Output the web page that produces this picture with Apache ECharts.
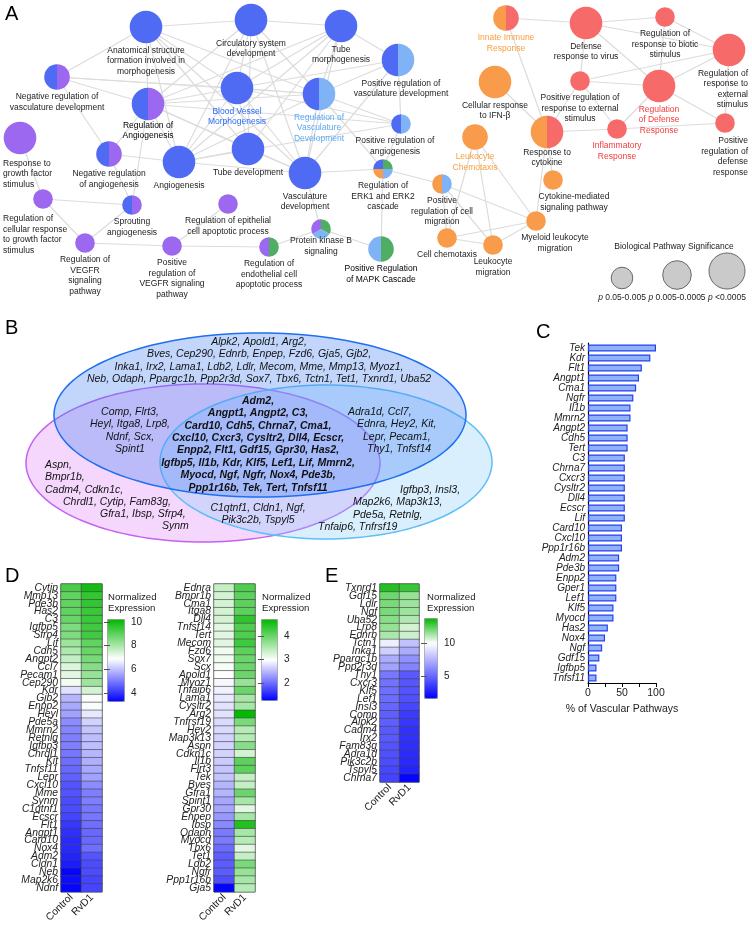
<!DOCTYPE html>
<html><head><meta charset="utf-8">
<script src="https://cdn.jsdelivr.net/npm/echarts@6/dist/echarts.min.js"></script>
<style>html,body{margin:0;padding:0;background:#fff}#c{width:752px;height:925px}</style>
</head><body><div id="c"></div>
<script>
const FONT = '"Liberation Sans", Arial, Helvetica, sans-serif';

// ---------------- Panel A : enrichment network ----------------
const nodeIds = ['anat','circ','tubeM','negVasc','regAng','bvm','regVasc','growth','negAng','angio','tubeD','vascD','regCell','sprout','epith','pkb','vegfr','posVegfr','endo','posVasc','posAng','erk','mapk','posMig','innate','virus','biotic','ext','ifn','posExt','regDef','leukChem','respCyt','inflam','posDef','cytMed','myeloid','cellChem','leukMig'];
const nodeLabels = [
 'Anatomical structure\nformation involved in\nmorphogenesis','Circulatory system\ndevelopment','Tube\nmorphogenesis',
 'Negative regulation of\nvasculature development','Regulation of\nAngiogenesis','Blood Vessel\nMorphogenesis',
 'Regulation of\nVasculature\nDevelopment','Response to\ngrowth factor\nstimulus','Negative regulation\nof angiogenesis',
 'Angiogenesis','Tube development','Vasculature\ndevelopment',
 'Regulation of\ncellular response\nto growth factor\nstimulus','Sprouting\nangiogenesis','Regulation of epithelial\ncell apoptotic process',
 'Protein kinase B\nsignaling','Regulation of\nVEGFR\nsignaling\npathway','Positive\nregulation of\nVEGFR signaling\npathway',
 'Regulation of\nendothelial cell\napoptotic process','Positive regulation of\nvasculature development','Positive regulation of\nangiogenesis',
 'Regulation of\nERK1 and ERK2\ncascade','Positive Regulation\nof MAPK Cascade','Positive\nregulation of cell\nmigration',
 'Innate Immune\nResponse','Defense\nresponse to virus','Regulation of\nresponse to biotic\nstimulus',
 'Regulation of\nresponse to\nexternal\nstimulus','Cellular response\nto IFN-β','Positive regulation of\nresponse to external\nstimulus',
 'Regulation\nof Defense\nResponse','Leukocyte\nChemotaxis','Response to\ncytokine',
 'Inflammatory\nResponse','Positive\nregulation of\ndefense\nresponse','Cytokine-mediated\nsignaling pathway',
 'Myeloid leukocyte\nmigration','Cell chemotaxis','Leukocyte\nmigration'];
const nodeX = [146,251,341,57,148,237,319,20,109,179,248,305,43,132,228,321,85,172,269,398,401,383,381,442,506,586,665,729,495,580,659,475,547,617,725,553,536,447,493];
const nodeY = [27,20,26,77,104,88,94,138,154,162,149,173,199,205,204,229,243,246,247,60,124,169,249,184,18,23,17,50,82,81,86,137,132,129,123,180,221,238,245];
const nodeSig = [3,3,3,2,3,3,3,3,2,3,3,3,1,1,1,1,1,1,1,3,1,1,2,1,2,3,1,3,3,1,3,2,3,1,1,1,1,1,1];
const nodeParts = [['v'],['v'],['v'],['p','v'],['p','v'],['v'],['lb','v'],['p'],['p','v'],['v'],['v'],['v'],['p'],['p','v'],['p'],['g','lb','p'],['p'],['p'],['g','p'],['lb','v'],['lb','v'],['g','lb','o','v'],['g','lb'],['lb','o'],['r','o'],['r'],['r'],['r'],['o'],['r'],['r'],['o'],['r','o'],['r'],['r'],['o'],['o'],['o'],['o']];
const edgeList = [
['anat','circ'],['circ','tubeM'],['anat','bvm'],['anat','regAng'],['anat','angio'],['anat','tubeD'],['anat','vascD'],['anat','regVasc'],['anat','negVasc'],
['circ','bvm'],['circ','regVasc'],['circ','angio'],['circ','tubeD'],['circ','vascD'],['circ','regAng'],
['tubeM','bvm'],['tubeM','regVasc'],['tubeM','vascD'],['tubeM','tubeD'],['tubeM','posVasc'],['tubeM','angio'],['tubeM','regAng'],
['negVasc','regAng'],['negVasc','bvm'],['negVasc','negAng'],['negVasc','regVasc'],
['regAng','bvm'],['regAng','angio'],['regAng','negAng'],['regAng','regVasc'],['regAng','tubeD'],['regAng','posAng'],['regAng','vascD'],['regAng','sprout'],
['bvm','angio'],['bvm','tubeD'],['bvm','vascD'],['bvm','regVasc'],['bvm','posAng'],['bvm','posVasc'],
['regVasc','vascD'],['regVasc','angio'],['regVasc','posVasc'],['regVasc','posAng'],['regVasc','erk'],
['posVasc','posAng'],['posVasc','vascD'],['posAng','erk'],['posAng','angio'],
['negAng','angio'],['negAng','sprout'],['tubeD','angio'],['tubeD','vascD'],['vascD','angio'],
['growth','regCell'],['regCell','sprout'],['regCell','vegfr'],['vegfr','posVegfr'],['sprout','vegfr'],
['posVegfr','epith'],['posVegfr','endo'],['endo','pkb'],['pkb','vascD'],['pkb','mapk'],['erk','mapk'],['erk','vascD'],['erk','posMig'],
['posMig','myeloid'],['posMig','cellChem'],['posMig','leukMig'],
['leukChem','cellChem'],['leukChem','leukMig'],['leukChem','myeloid'],['cellChem','leukMig'],['cellChem','myeloid'],['leukMig','myeloid'],
['respCyt','myeloid'],['respCyt','cytMed'],
['innate','virus'],['innate','respCyt'],['virus','biotic'],['virus','posExt'],['virus','regDef'],['virus','ext'],['biotic','ext'],['biotic','regDef'],
['ext','posExt'],['ext','regDef'],['ext','posDef'],['posExt','regDef'],['posExt','inflam'],['posExt','respCyt'],['regDef','inflam'],['regDef','posDef'],['inflam','posDef'],['inflam','respCyt'],['ifn','respCyt']];
const legendTitle = 'Biological Pathway Significance';
const legendSig = [1,2,3];
const legendText = ['0.05-0.005','0.005-0.0005','<0.0005'];

// ---------------- Panel B : Venn gene lists ----------------
const vennBlueOnly = ['Alpk2, Apold1, Arg2,','Bves, Cep290, Ednrb, Enpep, Fzd6, Gja5, Gjb2,','Inka1, Irx2, Lama1, Ldb2, Ldlr, Mecom, Mme, Mmp13, Myoz1,','Neb, Odaph, Ppargc1b, Ppp2r3d, Sox7, Tbx6, Tctn1, Tet1, Txnrd1, Uba52'];
const vennBluePurple = ['Comp, Flrt3,','Heyl, Itga8, Lrp8,','Ndnf, Scx,','Spint1'];
const vennPurpleOnly = ['Aspn,','Bmpr1b,','Cadm4, Cdkn1c,','Chrdl1, Cytip, Fam83g,','Gfra1, Ibsp, Sfrp4,','Synm'];
const vennCore = ['Adm2,','Angpt1, Angpt2, C3,','Card10, Cdh5, Chrna7, Cma1,','Cxcl10, Cxcr3, Cysltr2, Dll4, Ecscr,','Enpp2, Flt1, Gdf15, Gpr30, Has2,','Igfbp5, Il1b, Kdr, Klf5, Lef1, Lif, Mmrn2,','Myocd, Ngf, Ngfr, Nox4, Pde3b,','Ppp1r16b, Tek, Tert, Tnfsf11'];
const vennBlueLight = ['Adra1d, Ccl7,','Ednra, Hey2, Kit,','Lepr, Pecam1,','Thy1, Tnfsf14'];
const vennPurpleLight = ['C1qtnf1, Cldn1, Ngf,','Pik3c2b, Tspyl5'];
const vennLightOnly = ['Igfbp3, Insl3,','Map2k6, Map3k13,','Pde5a, Retnlg,','Tnfaip6, Tnfrsf19'];

// ---------------- Panel C : % of vascular pathways ----------------
const barGenes = ['Tek','Kdr','Flt1','Angpt1','Cma1','Ngfr','Il1b','Mmrn2','Angpt2','Cdh5','Tert','C3','Chrna7','Cxcr3','Cysltr2','Dll4','Ecscr','Lif','Card10','Cxcl10','Ppp1r16b','Adm2','Pde3b','Enpp2','Gper1','Lef1','Klf5','Myocd','Has2','Nox4','Ngf','Gdf15','Igfbp5','Tnfsf11'];
const barValues = [100,91.7,79.2,75,70.8,66.7,62.5,62.5,58.3,58.3,58.3,54.2,54.2,54.2,54.2,54.2,54.2,54.2,50,50,50,45.8,45.8,41.7,41.7,41.7,37.5,37.5,29.2,25,20.8,16.7,12.5,12.5];
const barTicks = [0,50,100];

// ---------------- Panels D/E : heatmaps ----------------
const heatCols = ['Control','RvD1'];
const d1Genes = ['Cytip','Mmp13','Pde3b','Has2','C3','Igfbp5','Sfrp4','Lif','Cdh5','Angpt2','Ccl7','Pecam1','Cep290','Kdr','Gjb2','Enpp2','Heyl','Pde5a','Mmrn2','Retnlg','Igfbp3','Chrdl1','Kit','Tnfsf11','Lepr','Cxcl10','Mme','Synm','C1qtnf1','Ecscr','Flt1','Angpt1','Card10','Nox4','Adm2','Cldn1','Neb','Map2k6','Ndnf'];
const d1Control = [9.3,9.0,9.0,9.0,8.9,8.6,8.6,8.2,8.0,7.7,7.4,7.3,7.1,6.5,5.9,5.7,5.6,5.3,5.2,5.1,5.1,5.0,4.9,4.8,4.7,4.5,4.5,4.4,4.4,4.3,4.1,4.0,3.9,3.9,3.8,3.7,3.4,3.5,3.4];
const d1RvD1 = [10.0,9.6,9.6,9.5,9.5,9.4,9.4,9.0,8.9,8.7,8.5,8.3,8.2,7.5,7.0,6.9,6.6,6.3,6.1,6.0,6.0,5.9,5.8,5.7,5.6,5.3,5.1,5.1,5.0,5.0,4.9,4.8,4.8,4.9,4.5,4.4,4.4,4.3,4.3];
const d1Ticks = [4,6,8,10];
const d2Genes = ['Ednra','Bmpr1b','Cma1','Itga8','Dll4','Tnfsf14','Tert','Mecom','Fzd6','Sox7','Scx','Apold1','Myoz1','Tnfaip6','Lama1','Cysltr2','Arg2','Tnfrsf19','Hey2','Map3k13','Aspn','Cdkn1c','Il1b','Flrt3','Tek','Bves','Gfra1','Spint1','Gpr30','Enpep','Ibsp','Odaph','Myocd','Tbx6','Tet1','Ldb2','Ngfr','Ppp1r16b','Gja5'];
const d2Control = [3.4,3.3,3.3,3.3,3.3,3.2,3.2,3.2,3.1,3.1,3.05,3.0,2.95,2.9,2.85,2.8,2.8,2.75,2.75,2.7,2.7,2.7,2.65,2.6,2.6,2.5,2.5,2.4,2.4,2.3,2.2,2.1,2.1,2.0,1.9,1.9,1.9,1.8,1.3];
const d2RvD1 = [4.2,4.1,4.1,4.1,4.4,4.2,4.2,4.3,4.1,4.0,4.0,4.0,3.7,4.0,3.6,3.6,4.7,3.9,3.5,3.5,3.8,3.3,4.1,4.1,3.4,3.4,4.0,3.6,3.2,3.6,4.5,3.6,3.5,3.2,3.4,3.9,3.7,3.6,3.5];
const d2Ticks = [2,3,4];
const eGenes = ['Txnrd1','Gdf15','Ldlr','Ngf','Uba52','Lrp8','Ednrb','Tctn1','Inka1','Ppargc1b','Ppp2r3d','Thy1','Cxcr3','Klf5','Lef1','Insl3','Comp','Alpk2','Cadm4','Irx2','Fam83g','Adra1d','Pik3c2b','Tspyl5','Chrna7'];
const eControl = [13.3,12.2,12.0,12.0,11.8,11.6,11.3,9.5,8.5,7.3,7.0,5.6,5.4,5.3,5.2,5.0,4.8,4.8,4.6,4.6,4.4,4.3,4.2,4.0,3.9];
const eRvD1 = [13.0,11.6,11.5,11.5,11.2,10.7,10.8,8.0,7.3,6.4,6.0,4.6,4.5,4.4,4.3,4.0,3.6,3.5,3.3,3.3,3.2,3.1,3.0,2.8,1.8];
const eTicks = [5,10];

// ---------------- styles / layout ----------------
const COL = {v:'#4f6bf3', p:'#9b68ef', lb:'#80b3f6', g:'#4fae62', o:'#f89b4b', r:'#f66a6a'};
const R_NET = {1:9.8, 2:12.8, 3:16.3};
const R_LEG = {1:10.8, 2:14.3, 3:18};
const LEG_POS = {x:[622,677,727], y:[278,275,271], titleX:674, titleY:247, textY:298};
const LABEL_LAYOUT = {growth:{align:'left', x:3, dy:2}, regCell:{align:'left', x:3, dy:3}, ext:{align:'right', x:748}, posDef:{align:'right', x:748, dy:1},
  cytMed:{dx:21}, myeloid:{dx:19}, posVasc:{dx:3}, posAng:{dx:-6}, pkb:{dy:-5}, regAng:{dy:-2}, respCyt:{dy:-3}};
function grad(a,b){ return new echarts.graphic.LinearGradient(0,0,1,0,[{offset:0,color:a},{offset:1,color:b}]); }
const LABEL_COLOR = {regAng:grad('#4f6bf3','#a066f0'), bvm:'#2b6cf6', regVasc:'#5aa8f5', mapk:grad('#6ab8f5','#3daa55'),
  innate:'#f7a03c', leukChem:'#f7a03c', regDef:'#f23b3b', inflam:'#f23b3b'};
const VENN_ELLIPSES = [ // cx, cy, rx, ry
  [203,463,177,79],[326,462,166,77],[260,415,206,82]];
const VENN_STYLE = [
  {fill:'rgba(225,130,250,0.32)', stroke:'#c462f0'},
  {fill:'rgba(140,205,252,0.33)', stroke:'#5dbff7'},
  {fill:'rgba(70,130,245,0.33)', stroke:'#1f6ff0'}];
const VENN_TEXT = [
  {lines:vennBlueOnly, x:[259], y:342, lh:12.3, align:'center'},
  {lines:vennBluePurple, x:[130], y:412, lh:12.5, align:'center'},
  {lines:vennPurpleOnly, x:[45,45,45,63,100,162], y:465, lh:12.3, align:'left'},
  {lines:vennCore, x:[258], y:401, lh:12.4, align:'center', bold:true},
  {lines:vennBlueLight, x:[348,357,363,367], y:412, lh:12.4, align:'left'},
  {lines:vennPurpleLight, x:[258], y:508, lh:11.6, align:'center'},
  {lines:vennLightOnly, x:[400,353,353,318], y:490, lh:12.3, align:'left'}];

function ramp(wf){
  const blue=[0,0,255], white=[255,255,255], green=[0,184,0], out=[], N=40;
  for(let k=0;k<=N;k++){ const t=k/N; let a,b,u;
    if(t<=wf){a=blue;b=white;u=t/wf;} else {a=white;b=green;u=(t-wf)/(1-wf);}
    out.push('rgb('+a.map((x,m)=>Math.round(x+(b[m]-x)*u)).join(',')+')'); }
  return out;
}
function heatData(c,r){ const out=[]; c.forEach((v,i)=>{out.push([0,i,v]); out.push([1,i,r[i]]);}); return out; }

const nodeIndex = id => nodeIds.indexOf(id);
const edgeData = edgeList.map(([a,b])=>{const i=nodeIndex(a), j=nodeIndex(b); return [nodeX[i],nodeY[i],nodeX[j],nodeY[j]];});

function renderEdge(params, api){
  const p1=api.coord([api.value(0),api.value(1)]), p2=api.coord([api.value(2),api.value(3)]);
  return {type:'line', shape:{x1:p1[0],y1:p1[1],x2:p2[0],y2:p2[1]}, style:{stroke:'#dcdcdc', lineWidth:1.2}};
}
function pieChildren(c, r, parts){
  const ch=[];
  if(parts.length===1){ ch.push({type:'circle', shape:{cx:c[0],cy:c[1],r:r}, style:{fill:COL[parts[0]]}}); }
  else { const step=2*Math.PI/parts.length;
    parts.forEach((k,j)=>ch.push({type:'sector', shape:{cx:c[0],cy:c[1],r0:0,r:r,startAngle:-Math.PI/2+j*step,endAngle:-Math.PI/2+(j+1)*step,clockwise:true}, style:{fill:COL[k]}})); }
  return ch;
}
function renderNode(params, api){
  const i=params.dataIndex, id=nodeIds[i];
  const c=api.coord([api.value(0),api.value(1)]);
  const r=R_NET[nodeSig[i]];
  const ch=pieChildren(c,r,nodeParts[i]);
  const lay=LABEL_LAYOUT[id]||{};
  let lx=c[0]+(lay.dx||0); if(lay.x!=null) lx=api.coord([lay.x,0])[0];
  const ly=c[1]+r+2+(lay.dy||0);
  ch.push({type:'text', x:lx, y:ly, style:{text:nodeLabels[i], fill:LABEL_COLOR[id]||'#222', fontSize:8.5, fontFamily:FONT, lineHeight:10.5, align:lay.align||'center', verticalAlign:'top'}});
  return {type:'group', children:ch};
}
function renderLegend(params, api){
  const i=params.dataIndex;
  const c=api.coord([LEG_POS.x[i], LEG_POS.y[i]]);
  const ch=[{type:'circle', shape:{cx:c[0],cy:c[1],r:R_LEG[legendSig[i]]}, style:{fill:'#cacaca', stroke:'#6a6a6a', lineWidth:1}}];
  const t=api.coord([LEG_POS.x[i], LEG_POS.textY]);
  ch.push({type:'text', x:t[0], y:t[1], style:{text:'{i|p} '+legendText[i], rich:{i:{fontStyle:'italic', fontSize:8.5, fontFamily:FONT, fill:'#222'}}, fontSize:8.5, fontFamily:FONT, fill:'#222', align:'center', verticalAlign:'middle'}});
  if(i===0){ const tt=api.coord([LEG_POS.titleX, LEG_POS.titleY]);
    ch.push({type:'text', x:tt[0], y:tt[1], style:{text:legendTitle, fontSize:8.5, fontFamily:FONT, fill:'#222', align:'center', verticalAlign:'middle'}}); }
  return {type:'group', children:ch};
}
function renderEllipse(params, api){
  const i=params.dataIndex;
  const c=api.coord([api.value(0),api.value(1)]);
  const s=api.size([api.value(2),api.value(3)]);
  const pts=[]; for(let k=0;k<160;k++){const a=k/160*2*Math.PI; pts.push([c[0]+s[0]*Math.cos(a), c[1]+s[1]*Math.sin(a)]);}
  return {type:'polygon', shape:{points:pts}, style:{fill:VENN_STYLE[i].fill, stroke:VENN_STYLE[i].stroke, lineWidth:1.5}};
}
function renderVennText(params, api){
  const blk=VENN_TEXT[params.dataIndex];
  const ch=blk.lines.map((t,k)=>{ const x=blk.x[Math.min(k,blk.x.length-1)]; const p=api.coord([x, blk.y+k*blk.lh]);
    return {type:'text', x:p[0], y:p[1], style:{text:t, fontSize:10.5, fontWeight:blk.bold?'bold':'normal', fontStyle:'italic', fontFamily:FONT, fill:'#111', align:blk.align, verticalAlign:'middle'}}; });
  return {type:'group', children:ch};
}

const heatYAxis = (gi, genes) => ({gridIndex:gi, type:'category', data:genes, inverse:true, axisLine:{show:false}, axisTick:{show:false}, splitLine:{show:false},
  axisLabel:{interval:0, fontStyle:'italic', fontSize:10.3, fontFamily:FONT, color:'#222', margin:3, lineHeight:8}});
const heatXAxis = gi => ({gridIndex:gi, type:'category', data:heatCols, axisLine:{show:false}, axisTick:{show:false}, splitLine:{show:false},
  axisLabel:{interval:0, rotate:45, fontSize:10.3, fontFamily:FONT, color:'#222', margin:4}});
const cbY = (gi, min, max, ticks, pos, labels) => ({gridIndex:gi, type:'value', min:min, max:max, position:pos, z:10,
  axisLine:{show:false}, splitLine:{show:false},
  axisTick:{show:true, inside:true, length:3, lineStyle:{color:'#555', width:1}, customValues:ticks},
  axisLabel:{show:labels, customValues:ticks, fontSize:10, fontFamily:FONT, color:'#222', margin:7}});
const CB = [{left:107, top:619, w:17, h:82, min:3.33, max:10.25, wf:0.52},
            {left:261, top:619, w:16, h:81, min:1.28, max:4.72, wf:0.5},
            {left:424, top:618, w:13, h:80, min:1.67, max:13.8, wf:0.69}];

const option = {
  animation:false,
  backgroundColor:'#fff',
  textStyle:{fontFamily:FONT},
  grid:[
    {left:0, top:0, width:752, height:925},
    {left:588, top:343, width:68, height:340},
    {left:61, top:584, width:41, height:318, show:true, borderColor:'#777', borderWidth:1},
    {left:214, top:584, width:41, height:318, show:true, borderColor:'#777', borderWidth:1},
    {left:380, top:584, width:39, height:198, show:true, borderColor:'#777', borderWidth:1},
    {left:CB[0].left, top:CB[0].top, width:CB[0].w, height:CB[0].h},
    {left:CB[1].left, top:CB[1].top, width:CB[1].w, height:CB[1].h},
    {left:CB[2].left, top:CB[2].top, width:CB[2].w, height:CB[2].h}
  ],
  xAxis:[
    {gridIndex:0, type:'value', min:0, max:752, show:false},
    {gridIndex:1, type:'value', min:0, max:100, interval:25,
      axisLine:{show:true, lineStyle:{color:'#000', width:1.2}}, axisTick:{show:true, length:4, lineStyle:{color:'#000'}}, splitLine:{show:false},
      axisLabel:{customValues:barTicks, fontSize:10.5, fontFamily:FONT, color:'#222', margin:5},
      name:'% of Vascular Pathways', nameLocation:'middle', nameGap:21, nameTextStyle:{fontSize:10.5, fontFamily:FONT, color:'#222'}},
    heatXAxis(2), heatXAxis(3), heatXAxis(4),
    {gridIndex:5, type:'value', show:false}, {gridIndex:6, type:'value', show:false}, {gridIndex:7, type:'value', show:false}
  ],
  yAxis:[
    {gridIndex:0, type:'value', min:0, max:925, inverse:true, show:false},
    {gridIndex:1, type:'category', data:barGenes, inverse:true, axisLine:{show:true, lineStyle:{color:'#000', width:1.2}}, axisTick:{show:false},
      axisLabel:{interval:0, fontStyle:'italic', fontSize:10, fontFamily:FONT, color:'#222', margin:3}},
    heatYAxis(2, d1Genes), heatYAxis(3, d2Genes), heatYAxis(4, eGenes),
    cbY(5, CB[0].min, CB[0].max, d1Ticks, 'right', true), cbY(5, CB[0].min, CB[0].max, d1Ticks, 'left', false),
    cbY(6, CB[1].min, CB[1].max, d2Ticks, 'right', true), cbY(6, CB[1].min, CB[1].max, d2Ticks, 'left', false),
    cbY(7, CB[2].min, CB[2].max, eTicks, 'right', true), cbY(7, CB[2].min, CB[2].max, eTicks, 'left', false)
  ],
  visualMap: CB.map((cb,k)=>({type:'continuous', seriesIndex:6+k, dimension:2, min:cb.min, max:cb.max, left:cb.left, top:cb.top,
    itemWidth:cb.w, itemHeight:cb.h, calculable:false, hoverLink:false, realtime:false, padding:0, borderWidth:1, borderColor:'#999',
    inRange:{color:ramp(cb.wf)}, textStyle:{fontSize:10}})),
  series:[
    {type:'custom', name:'edges', xAxisIndex:0, yAxisIndex:0, z:1, silent:true, renderItem:renderEdge, data:edgeData},
    {type:'custom', name:'nodes', xAxisIndex:0, yAxisIndex:0, z:2, silent:true, renderItem:renderNode, data:nodeX.map((x,i)=>[x,nodeY[i]])},
    {type:'custom', name:'legend', xAxisIndex:0, yAxisIndex:0, z:2, silent:true, renderItem:renderLegend, data:legendSig.map((s,i)=>[LEG_POS.x[i],LEG_POS.y[i]])},
    {type:'custom', name:'venn', xAxisIndex:0, yAxisIndex:0, z:1, silent:true, renderItem:renderEllipse, data:VENN_ELLIPSES},
    {type:'custom', name:'vennText', xAxisIndex:0, yAxisIndex:0, z:3, silent:true, renderItem:renderVennText, data:VENN_TEXT.map(b=>[b.x[0], b.y])},
    {type:'bar', xAxisIndex:1, yAxisIndex:1, data:barValues, barWidth:7, silent:true,
      itemStyle:{color:'#8db4f9', borderColor:'#2a3ff0', borderWidth:1.2}},
    {type:'heatmap', xAxisIndex:2, yAxisIndex:2, data:heatData(d1Control,d1RvD1), silent:true, itemStyle:{borderColor:'#444', borderWidth:0.6}},
    {type:'heatmap', xAxisIndex:3, yAxisIndex:3, data:heatData(d2Control,d2RvD1), silent:true, itemStyle:{borderColor:'#444', borderWidth:0.6}},
    {type:'heatmap', xAxisIndex:4, yAxisIndex:4, data:heatData(eControl,eRvD1), silent:true, itemStyle:{borderColor:'#444', borderWidth:0.6}}
  ],
  graphic:[
    {type:'text', left:5, top:4, style:{text:'A', fontSize:20, fontFamily:FONT, fill:'#000'}},
    {type:'text', left:5, top:318, style:{text:'B', fontSize:20, fontFamily:FONT, fill:'#000'}},
    {type:'text', left:536, top:322, style:{text:'C', fontSize:20, fontFamily:FONT, fill:'#000'}},
    {type:'text', left:5, top:566, style:{text:'D', fontSize:20, fontFamily:FONT, fill:'#000'}},
    {type:'text', left:325, top:566, style:{text:'E', fontSize:20, fontFamily:FONT, fill:'#000'}},
    {type:'text', left:108, top:592, style:{text:'Normalized\nExpression', fontSize:9.6, lineHeight:11, fontFamily:FONT, fill:'#222'}},
    {type:'text', left:262, top:592, style:{text:'Normalized\nExpression', fontSize:9.6, lineHeight:11, fontFamily:FONT, fill:'#222'}},
    {type:'text', left:427, top:592, style:{text:'Normalized\nExpression', fontSize:9.6, lineHeight:11, fontFamily:FONT, fill:'#222'}}
  ]
};
const chart = echarts.init(document.getElementById('c'), null, {renderer:'canvas', width:752, height:925});
chart.setOption(option);
</script></body></html>
